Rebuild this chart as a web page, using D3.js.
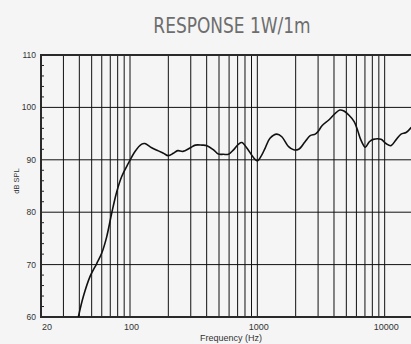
<!DOCTYPE html>
<html>
<head>
<meta charset="utf-8">
<script src="https://cdn.jsdelivr.net/npm/d3@7"></script>
<style>
  html, body { margin: 0; padding: 0; background: #f5f5f5; }
  svg { display: block; }
  text { font-family: "Liberation Sans", Arial, sans-serif; fill: #333; }
</style>
</head>
<body>
<script>
// frequency response
const freqHz = [39.3, 43, 48.5, 54.8, 60, 65.6, 71.8, 78.7, 86.1, 97, 109.5, 123.6, 131, 148, 167, 183,
  200, 219, 237, 260, 298, 326, 368, 402, 453, 495, 542, 593, 650, 712, 756, 830, 935, 1000,
  1082, 1150, 1257, 1421, 1557, 1760, 1930, 2110, 2370, 2600, 2850, 3000, 3220, 3640, 4110,
  4450, 4790, 5250, 5760, 6120, 6500, 7050, 7580, 8140, 9360, 10240, 11200, 12270, 13450,
  14740, 16200];
const splDb = [60, 63.9, 67.7, 70.2, 72.2, 75.3, 79.8, 83.9, 86.8, 89.3, 91.6, 93, 93.1, 92.3, 91.7, 91.25,
  90.8, 91.25, 91.75, 91.6, 92.3, 92.8, 92.8, 92.7, 91.9, 91.1, 91.05, 91.05, 91.9, 93, 93.3, 92.2, 90.4, 89.8,
  90.9, 92.2, 94.1, 94.9, 94.4, 92.5, 91.9, 92, 93.45, 94.6, 94.9, 95.4, 96.5, 97.6, 98.9,
  99.5, 99.3, 98.5, 97.3, 95.7, 93.8, 92.4, 93.45, 93.9, 93.9, 93.1, 92.7, 93.8, 94.9,
  95.2, 96.2];

const xTickLabels = [20, 100, 1000, 10000];
const yTickLabels = [60, 70, 80, 90, 100, 110];
const xGrid = [30, 40, 50, 60, 70, 80, 90, 100, 200, 300, 400, 500, 600, 700, 800, 900, 1000,
  2000, 3000, 4000, 5000, 6000, 7000, 8000, 9000, 10000];
const yMinor = d3.range(62, 110, 2);

const width = 411;
const height = 344;
const plot = { left: 41, right: 423, top: 55, bottom: 317 };

const x = d3.scaleLog().domain([20, 20000]).range([plot.left, plot.right]);
const y = d3.scaleLinear().domain([60, 110]).range([plot.bottom, plot.top]);

const svg = d3.select('body').append('svg')
  .attr('width', width)
  .attr('height', height);

// condensed title, squeezed a bit more to match the narrow face
svg.append('text')
  .attr('transform', 'translate(232,33) scale(0.9,1)')
  .attr('text-anchor', 'middle')
  .style('font-family', '"DejaVu Sans Condensed", "Liberation Sans Narrow", sans-serif')
  .style('font-size', '21px')
  .style('fill', '#6d6d6d')
  .text('RESPONSE 1W/1m');

svg.append('clipPath').attr('id', 'clip')
  .append('rect')
  .attr('x', plot.left)
  .attr('y', plot.top)
  .attr('width', plot.right - plot.left)
  .attr('height', plot.bottom - plot.top);

// grid
svg.append('g')
  .selectAll('line')
  .data(xGrid)
  .enter().append('line')
  .attr('x1', (d) => x(d))
  .attr('x2', (d) => x(d))
  .attr('y1', plot.top)
  .attr('y2', plot.bottom)
  .attr('stroke', '#111')
  .attr('stroke-width', 1);

svg.append('g')
  .selectAll('line')
  .data(yTickLabels.slice(1, -1))
  .enter().append('line')
  .attr('x1', plot.left)
  .attr('x2', width)
  .attr('y1', (d) => y(d))
  .attr('y2', (d) => y(d))
  .attr('stroke', '#111')
  .attr('stroke-width', 1);

// minor ticks on the left axis
svg.append('g')
  .selectAll('line')
  .data(yMinor.filter((d) => d % 10 !== 0))
  .enter().append('line')
  .attr('x1', plot.left)
  .attr('x2', plot.left + 3)
  .attr('y1', (d) => y(d))
  .attr('y2', (d) => y(d))
  .attr('stroke', '#222')
  .attr('stroke-width', 1);

// frame
svg.append('line')
  .attr('x1', plot.left).attr('x2', width)
  .attr('y1', plot.top).attr('y2', plot.top)
  .attr('stroke', '#2a2a2a').attr('stroke-width', 2);
svg.append('line')
  .attr('x1', plot.left).attr('x2', width)
  .attr('y1', plot.bottom).attr('y2', plot.bottom)
  .attr('stroke', '#2a2a2a').attr('stroke-width', 2);
svg.append('line')
  .attr('x1', plot.left).attr('x2', plot.left)
  .attr('y1', plot.top - 1).attr('y2', plot.bottom + 1)
  .attr('stroke', '#2a2a2a').attr('stroke-width', 2);

// curve
const points = freqHz.map((f, i) => [f, splDb[i]]);
const line = d3.line()
  .x((d) => x(d[0]))
  .y((d) => y(d[1]))
  .curve(d3.curveCatmullRom.alpha(0.5));

svg.append('path')
  .datum(points)
  .attr('clip-path', 'url(#clip)')
  .attr('d', line)
  .attr('fill', 'none')
  .attr('stroke', '#111')
  .attr('stroke-width', 1.6);

// tick labels
svg.append('g')
  .selectAll('text')
  .data(yTickLabels)
  .enter().append('text')
  .attr('x', plot.left - 5)
  .attr('y', (d) => y(d))
  .attr('dy', '0.35em')
  .attr('text-anchor', 'end')
  .style('font-size', '8.5px')
  .text((d) => d);

svg.append('g')
  .selectAll('text')
  .data(xTickLabels)
  .enter().append('text')
  .attr('x', (d) => d === 20 ? plot.left + 1 : x(d) + 1.5)
  .attr('y', 330)
  .attr('text-anchor', (d) => d === 20 ? 'start' : 'middle')
  .style('font-size', '9px')
  .text((d) => d);

svg.append('text')
  .attr('x', 231)
  .attr('y', 341)
  .attr('text-anchor', 'middle')
  .style('font-size', '9px')
  .text('Frequency (Hz)');

svg.append('text')
  .attr('transform', 'translate(19,181) rotate(-90)')
  .attr('text-anchor', 'middle')
  .style('font-size', '7.5px')
  .text('dB SPL');
</script>
</body>
</html>
